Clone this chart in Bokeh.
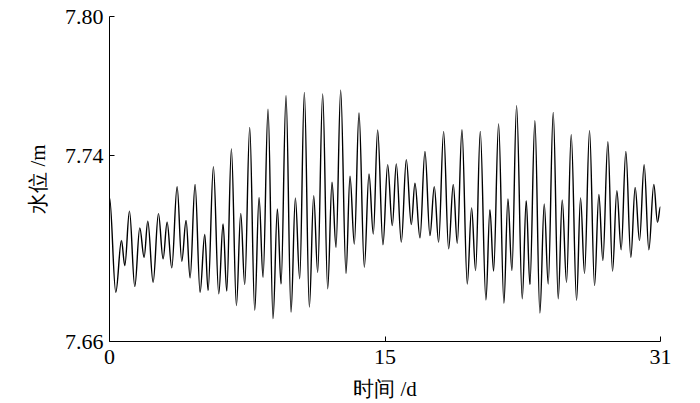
from bokeh.plotting import figure
from bokeh.models import Range1d, FixedTicker, NumeralTickFormatter, ColumnDataSource
from bokeh.embed import file_html
from bokeh.resources import INLINE

# time (days) and water level (m) read at each turning point of the record
t_days = [
    0.000, 0.354, 0.673, 0.860, 1.123, 1.423, 1.704, 1.947, 2.154, 2.454,
    2.753, 3.016, 3.241, 3.503, 3.803, 4.066, 4.309, 4.534, 4.815, 5.096,
    5.359, 5.546, 5.846, 6.146, 6.390, 6.596, 6.858, 7.140, 7.383, 7.608,
    7.889, 8.170, 8.414, 8.639, 8.920, 9.201, 9.445, 9.651, 9.932, 10.213,
    10.457, 10.701, 10.963, 11.244, 11.488, 11.713, 11.994, 12.275, 12.519, 12.744,
    13.006, 13.306, 13.531, 13.775, 14.037, 14.337, 14.599, 14.843, 15.087, 15.386,
    15.649, 15.911, 16.136, 16.417, 16.699, 16.980, 17.186, 17.467, 17.748, 18.029,
    18.273, 18.517, 18.798, 19.079, 19.342, 19.567, 19.829, 20.129, 20.372, 20.597,
    20.860, 21.178, 21.403, 21.610, 21.891, 22.190, 22.415, 22.640, 22.903, 23.222,
    23.446, 23.652, 23.933, 24.214, 24.459, 24.683, 24.965, 25.246, 25.471, 25.714,
    25.977, 26.277, 26.501, 26.726, 27.008, 27.289, 27.532, 27.757, 28.038, 28.301,
    28.544, 28.788, 29.050, 29.331, 29.575, 29.819, 30.081, 30.343, 30.624, 30.830,
    31.000,
]
level_m = [
    7.7221, 7.6812, 7.7035, 7.6927, 7.7161, 7.6837, 7.7089, 7.6963, 7.7118, 7.6855,
    7.7150, 7.6956, 7.7114, 7.6917, 7.7267, 7.6946, 7.7121, 7.6874, 7.7276, 7.6812,
    7.7061, 7.6820, 7.7353, 7.6805, 7.7106, 7.6817, 7.7429, 7.6755, 7.7152, 7.6845,
    7.7522, 7.6734, 7.7221, 7.6877, 7.7601, 7.6698, 7.7171, 7.6848, 7.7659, 7.6726,
    7.7218, 7.6870, 7.7673, 7.6748, 7.7228, 7.6898, 7.7666, 7.6827, 7.7286, 7.7006,
    7.7683, 7.6894, 7.7312, 7.7020, 7.7584, 7.6920, 7.7322, 7.7063, 7.7511, 7.7017,
    7.7362, 7.7099, 7.7365, 7.7028, 7.7383, 7.7104, 7.7282, 7.7046, 7.7419, 7.7056,
    7.7267, 7.7028, 7.7505, 7.6999, 7.7276, 7.7023, 7.7512, 7.6848, 7.7175, 7.6906,
    7.7505, 7.6779, 7.7168, 7.6903, 7.7537, 7.6765, 7.7214, 7.6906, 7.7616, 7.6784,
    7.7207, 7.6845, 7.7551, 7.6723, 7.7193, 7.6848, 7.7587, 7.6784, 7.7210, 7.6855,
    7.7491, 7.6777, 7.7218, 7.6894, 7.7508, 7.6841, 7.7233, 7.6949, 7.7461, 7.6903,
    7.7250, 7.6995, 7.7419, 7.6963, 7.7264, 7.7035, 7.7362, 7.6995, 7.7276, 7.7114,
    7.7181,
]

x_ticks = [0, 15.5, 31]
x_tick_labels = ["0", "15", "31"]
y_ticks = [7.66, 7.74, 7.80]
x_title = "时间 /d"
y_title = "水位 /m"

FONT = "Liberation Serif"

p = figure(width=700, height=403, output_backend="svg", toolbar_location=None,
           x_range=Range1d(0, 31), y_range=Range1d(7.66, 7.80),
           min_border_left=109, min_border_right=40, min_border_top=16,
           min_border_bottom=62)
p.outline_line_color = None
p.xgrid.visible = False
p.ygrid.visible = False
p.background_fill_color = "white"
p.border_fill_color = "white"

# smooth the record between turning points with horizontal-tangent cubic curves
K = 0.3634
x0 = t_days[:-1]
x1 = t_days[1:]
y0 = level_m[:-1]
y1 = level_m[1:]
cx0 = [a + K * (b - a) for a, b in zip(x0, x1)]
cx1 = [b - K * (b - a) for a, b in zip(x0, x1)]
src = ColumnDataSource(dict(x0=x0, y0=y0, x1=x1, y1=y1, cx0=cx0, cy0=y0, cx1=cx1, cy1=y1))
p.bezier(x0="x0", y0="y0", x1="x1", y1="y1", cx0="cx0", cy0="cy0", cx1="cx1", cy1="cy1",
         source=src, line_color="#000000", line_width=1.4)

for ax in (p.xaxis[0], p.yaxis[0]):
    ax.axis_line_color = "black"
    ax.axis_line_width = 1
    ax.major_tick_in = 5
    ax.major_tick_out = 0
    ax.minor_tick_line_color = None
    ax.major_tick_line_color = "black"
    ax.major_label_text_font = FONT
    ax.major_label_text_font_size = "22px"
    ax.major_label_text_color = "black"
    ax.axis_label_text_font = FONT
    ax.axis_label_text_font_size = "21px"
    ax.axis_label_text_font_style = "normal"
    ax.axis_label_text_color = "black"

p.xaxis.ticker = FixedTicker(ticks=x_ticks)
p.xaxis.major_label_overrides = {k: v for k, v in zip(x_ticks, x_tick_labels)}
p.xaxis.major_label_standoff = 8
p.xaxis.axis_label = x_title
p.xaxis.axis_label_standoff = 10

p.yaxis.ticker = FixedTicker(ticks=y_ticks)
p.yaxis.formatter = NumeralTickFormatter(format="0.00")
p.yaxis.major_label_standoff = 6
p.yaxis.axis_label = y_title
p.yaxis.axis_label_standoff = 12

open("out.html", "w").write(file_html(p, INLINE))
